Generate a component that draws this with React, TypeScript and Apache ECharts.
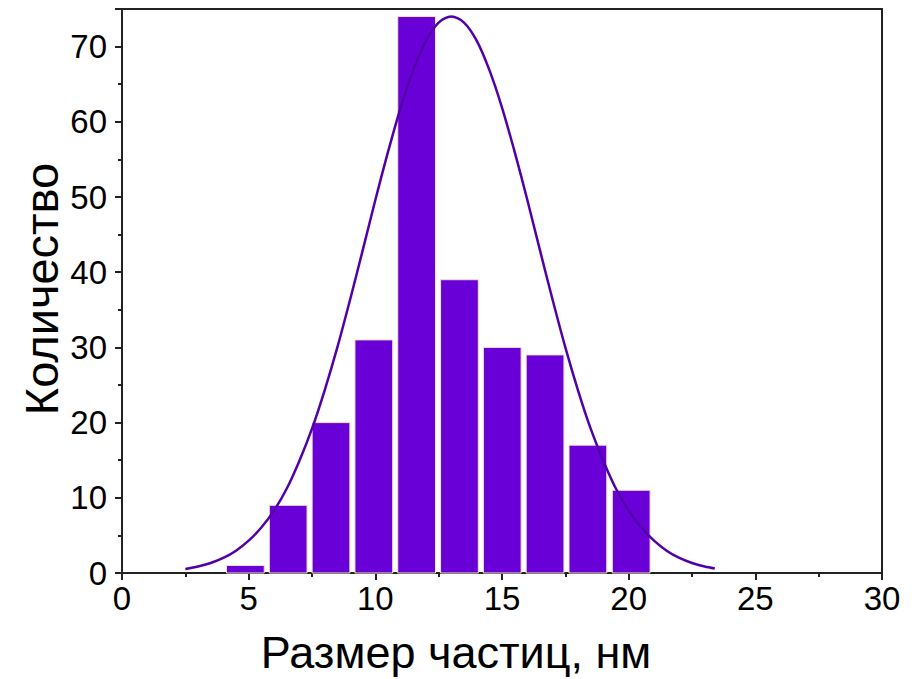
import React, { useEffect, useRef } from "react";
import * as echarts from "echarts";

const binCenters = [4.87, 6.56, 8.25, 9.94, 11.63, 13.32, 15.01, 16.7, 18.39, 20.1];
const counts = [1, 9, 20, 31, 74, 39, 30, 29, 17, 11];
const binWidth = 1.49;

const fitX = [2.5, 3, 3.5, 4, 4.5, 5, 5.5, 6, 6.5, 7, 7.5, 8, 8.5, 9, 9.5, 10, 10.5, 11, 11.5, 12, 12.5, 13, 13.5, 14, 14.5, 15, 15.5, 16, 16.5, 17, 17.5, 18, 18.5, 19, 19.5, 20, 20.5, 21, 21.5, 22, 22.5, 23, 23.4];
const fitY = [0.54, 0.86, 1.33, 2.0, 2.97, 4.3, 6.05, 8.3, 11.2, 14.9, 19.2, 24.3, 30.0, 36.3, 42.9, 49.6, 56.0, 61.9, 66.9, 70.8, 73.2, 74, 73.2, 70.8, 66.9, 61.9, 56.0, 49.6, 42.9, 36.3, 30.0, 24.3, 19.2, 14.9, 11.2, 8.3, 6.05, 4.3, 2.97, 2.0, 1.33, 0.86, 0.6];

const xTicks = [0, 5, 10, 15, 20, 25, 30];
const yTicks = [0, 10, 20, 30, 40, 50, 60, 70];

const xTitle = "Размер частиц, нм";
const yTitle = "Количество";

export default function App() {
  const ref = useRef<HTMLDivElement>(null);
  useEffect(() => {
    if (!ref.current) return;
    const chart = echarts.init(ref.current, null, { renderer: "svg" });
    const axisColor = "#222";
    const font = "Liberation Sans, Arial, sans-serif";
    chart.setOption({
      animation: false,
      backgroundColor: "#fff",
      grid: { left: 122, top: 9, right: 39, bottom: 106 },
      xAxis: [
        {
          type: "value",
          min: xTicks[0],
          max: xTicks[xTicks.length - 1],
          interval: 5,
          axisLine: { show: true, onZero: false, lineStyle: { color: axisColor, width: 2 } },
          axisTick: { show: true, inside: false, length: 7, lineStyle: { color: axisColor, width: 2 } },
          minorTick: { show: true, splitNumber: 2, length: 4, lineStyle: { color: axisColor, width: 2 } },
          splitLine: { show: false },
          axisLabel: { fontSize: 33, color: "#000", fontFamily: font, margin: 9 },
        },
        {
          type: "value",
          position: "top",
          min: 0,
          max: 30,
          axisLine: { show: true, onZero: false, lineStyle: { color: axisColor, width: 2 } },
          axisTick: { show: false },
          axisLabel: { show: false },
          splitLine: { show: false },
        },
      ],
      yAxis: [
        {
          type: "value",
          min: 0,
          max: 75,
          interval: 10,
          axisLine: { show: true, onZero: false, lineStyle: { color: axisColor, width: 2 } },
          axisTick: { show: true, inside: false, length: 7, lineStyle: { color: axisColor, width: 2 } },
          minorTick: { show: true, splitNumber: 2, length: 4, lineStyle: { color: axisColor, width: 2 } },
          splitLine: { show: false },
          axisLabel: {
            fontSize: 33,
            color: "#000",
            fontFamily: font,
            margin: 15,
            showMaxLabel: false,
            formatter: (v: number) => (yTicks.includes(v) ? String(v) : ""),
          },
        },
        {
          type: "value",
          position: "right",
          min: 0,
          max: 75,
          axisLine: { show: true, onZero: false, lineStyle: { color: axisColor, width: 2 } },
          axisTick: { show: false },
          axisLabel: { show: false },
          splitLine: { show: false },
        },
      ],
      series: [
        {
          type: "custom",
          xAxisIndex: 0,
          yAxisIndex: 0,
          data: binCenters.map((c, i) => [c, counts[i]]),
          renderItem: (params: any, api: any) => {
            const c = api.value(0);
            const v = api.value(1);
            const p1 = api.coord([c - binWidth / 2, v]);
            const p2 = api.coord([c + binWidth / 2, 0]);
            return {
              type: "rect",
              shape: { x: p1[0], y: p1[1], width: p2[0] - p1[0], height: p2[1] - p1[1] },
              style: { fill: "#6a00d8", stroke: "#f3e3c3", lineWidth: 1 },
            };
          },
          z: 2,
        },
        {
          type: "line",
          xAxisIndex: 0,
          yAxisIndex: 0,
          data: fitX.map((x, i) => [x, fitY[i]]),
          smooth: 0.3,
          showSymbol: false,
          symbol: "none",
          lineStyle: { color: "#5100a8", width: 2.5 },
          z: 3,
        },
      ],
      graphic: [
        {
          type: "text",
          x: 456,
          y: 652,
          style: {
            text: xTitle,
            fontSize: 45,
            lineHeight: 44,
            fill: "#000",
            fontFamily: font,
            align: "center",
            verticalAlign: "middle",
          },
        },
        {
          type: "text",
          x: 18,
          y: 289,
          rotation: Math.PI / 2,
          style: {
            text: yTitle,
            fontSize: 47,
            fill: "#000",
            fontFamily: font,
            align: "center",
            verticalAlign: "top",
          },
        },
      ],
    });
    return () => chart.dispose();
  }, []);
  return <div ref={ref} style={{ width: 921, height: 679, position: "absolute", left: 0, top: 0 }} />;
}
